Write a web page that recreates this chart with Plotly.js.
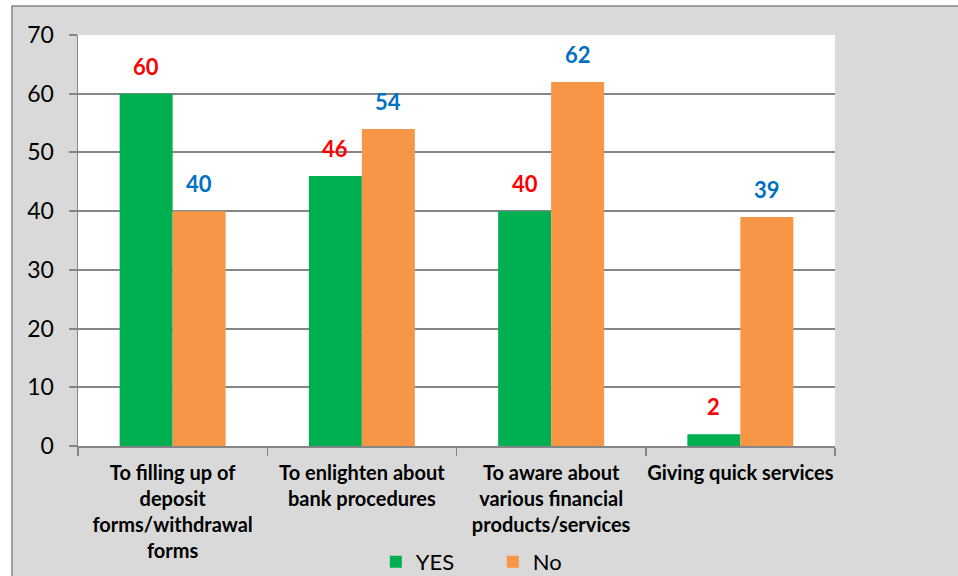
<!DOCTYPE html>
<html>
<head>
<meta charset="utf-8">
<script src="https://cdn.plot.ly/plotly-3.0.1.min.js"></script>
<style>html,body{margin:0;padding:0;background:#fff;}#chart{width:958px;height:576px;}</style>
</head>
<body>
<div id="chart"></div>
<script>
var categories = [
  "To filling up of<br>deposit<br>forms/withdrawal<br>forms",
  "To enlighten about<br>bank procedures",
  "To aware about<br>various financial<br>products/services",
  "Giving quick services"
];
var yesValues = [60, 46, 40, 2];
var noValues = [40, 54, 62, 39];
var yTicks = [0, 10, 20, 30, 40, 50, 60, 70];

var FONT = "Lato, 'Open Sans', sans-serif";

var traces = [
  {type: 'bar', name: 'YES', x: categories, y: yesValues, marker: {color: '#00b050'}, hoverinfo: 'none'},
  {type: 'bar', name: 'No', x: categories, y: noValues, marker: {color: '#f79646'}, hoverinfo: 'none'}
];

var annotations = [];
categories.forEach(function (c, i) {
  annotations.push({x: c, y: yesValues[i], xref: 'x', yref: 'y', text: String(yesValues[i]),
    showarrow: false, xshift: -26.5, yshift: 12, yanchor: 'bottom',
    font: {family: FONT, size: 22, color: '#ff0000', weight: 'bold'}});
  annotations.push({x: c, y: noValues[i], xref: 'x', yref: 'y', text: String(noValues[i]),
    showarrow: false, xshift: 26.5, yshift: 12, yanchor: 'bottom',
    font: {family: FONT, size: 22, color: '#0070c0', weight: 'bold'}});
});

var layout = {
  width: 958, height: 576,
  margin: {l: 78, r: 123, t: 35, b: 130, autoexpand: false},
  paper_bgcolor: '#ffffff',
  plot_bgcolor: '#ffffff',
  barmode: 'group',
  bargap: 0.44,
  bargroupgap: 0,
  showlegend: true,
  legend: {orientation: 'h', x: 0.548, xanchor: 'center', y: -0.282, yanchor: 'middle',
    font: {family: FONT, size: 22, color: '#000'}, bgcolor: 'rgba(0,0,0,0)', itemwidth: 30,
    entrywidth: 72},
  xaxis: {
    type: 'category', tickson: 'boundaries', ticks: 'outside', ticklen: 8, tickcolor: '#868686', tickwidth: 1.5,
    showline: true, linecolor: '#868686', linewidth: 2, showgrid: false, tickangle: 0,
    ticklabelstandoff: 8,
    tickfont: {family: FONT, size: 20, color: '#000', weight: 'bold'}
  },
  yaxis: {
    range: [0, 70], tickvals: yTicks, ticktext: yTicks.map(String),
    ticks: 'outside', ticklen: 8, tickcolor: '#868686', tickwidth: 2,
    showline: true, linecolor: '#868686', linewidth: 1.5, ticklabelstandoff: 10,
    showgrid: true, gridcolor: '#868686', gridwidth: 2, zeroline: false,
    tickfont: {family: FONT, size: 23, color: '#000'}
  },
  shapes: [
    {type: 'rect', xref: 'paper', yref: 'paper', x0: -0.0872, x1: 1.2, y0: -0.4, y1: 1.0706,
      fillcolor: '#d9d9d9', line: {color: '#868686', width: 1.5}, layer: 'below'},
    {type: 'rect', xref: 'paper', yref: 'paper', x0: 0, x1: 1, y0: 0, y1: 1,
      fillcolor: '#ffffff', line: {width: 0}, layer: 'below'}
  ],
  annotations: annotations
};

Plotly.newPlot('chart', traces, layout, {staticPlot: true});
</script>
</body>
</html>
